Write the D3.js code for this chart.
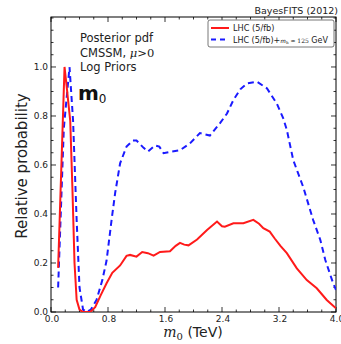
<!DOCTYPE html>
<html><head><meta charset="utf-8">
<script src="https://cdn.jsdelivr.net/npm/d3@7"></script>
<style>body{margin:0;background:#fff}svg{display:block}text{font-family:"DejaVu Sans",sans-serif}</style>
</head><body>
<script>
const xTicks = [0.0, 0.8, 1.6, 2.4, 3.2, 4.0];
const yTicks = [0.0, 0.2, 0.4, 0.6, 0.8, 1.0];
const redM0 = [0.10,0.19,0.22,0.27,0.30,0.33,0.36,0.40,0.45,0.55,0.62,0.70,0.78,0.86,0.97,1.06,1.11,1.20,1.28,1.36,1.44,1.53,1.67,1.75,1.81,1.87,1.93,2.05,2.19,2.33,2.40,2.44,2.56,2.70,2.84,2.92,2.98,3.07,3.14,3.22,3.31,3.45,3.59,3.73,3.87,4.0];
const redP  = [0.18,1.0,0.92,0.78,0.51,0.2,0.05,0.01,0.0,0.0,0.02,0.07,0.117,0.16,0.19,0.229,0.233,0.226,0.245,0.24,0.23,0.245,0.248,0.27,0.282,0.275,0.272,0.296,0.335,0.369,0.35,0.348,0.362,0.362,0.376,0.36,0.342,0.328,0.30,0.27,0.24,0.178,0.13,0.097,0.049,0.015];
const blueM0 = [0.10,0.18,0.26,0.31,0.36,0.40,0.45,0.50,0.56,0.64,0.72,0.78,0.85,0.90,0.97,1.06,1.15,1.20,1.30,1.36,1.46,1.52,1.58,1.70,1.81,1.95,2.09,2.23,2.37,2.47,2.56,2.66,2.75,2.89,3.03,3.17,3.26,3.31,3.40,3.54,3.68,3.78,3.85,3.96,4.0];
const blueP  = [0.10,0.75,1.0,0.78,0.375,0.10,0.01,0.0,0.01,0.05,0.13,0.21,0.375,0.485,0.607,0.675,0.70,0.70,0.67,0.655,0.68,0.675,0.648,0.655,0.66,0.688,0.73,0.72,0.77,0.81,0.865,0.91,0.933,0.94,0.913,0.85,0.79,0.743,0.62,0.51,0.375,0.294,0.212,0.117,0.09];

const W = 341, H = 344;
const L = 51, R = 336, T = 17, B = 312;
const svg = d3.select("body").append("svg").attr("width", W).attr("height", H);
const x = d3.scaleLinear().domain([0, 4]).range([L, R]);
const y = d3.scaleLinear().domain([0, 1.204]).range([B, T]);

// frame
svg.append("rect").attr("x", L).attr("y", T).attr("width", R - L).attr("height", B - T)
  .attr("fill", "none").attr("stroke", "#000").attr("stroke-width", 1);

const minorX = d3.range(0, 4.0001, 0.2);
const minorY = d3.range(0, 1.2001, 0.05);
const tg = svg.append("g").attr("stroke", "#000").attr("stroke-width", 0.8);
minorX.forEach(v => {
  const major = xTicks.some(t => Math.abs(t - v) < 1e-6);
  const len = major ? 5 : 2.5;
  tg.append("line").attr("x1", x(v)).attr("x2", x(v)).attr("y1", B).attr("y2", B - len);
  tg.append("line").attr("x1", x(v)).attr("x2", x(v)).attr("y1", T).attr("y2", T + len);
});
minorY.forEach(v => {
  const major = yTicks.some(t => Math.abs(t - v) < 1e-6);
  const len = major ? 5 : 2.5;
  tg.append("line").attr("y1", y(v)).attr("y2", y(v)).attr("x1", L).attr("x2", L + len);
  tg.append("line").attr("y1", y(v)).attr("y2", y(v)).attr("x1", R).attr("x2", R - len);
});

// tick labels
svg.append("g").selectAll("text").data(xTicks).join("text")
  .attr("x", d => x(d) + 1).attr("y", B + 10).attr("text-anchor", "middle")
  .attr("font-size", 9).attr("fill", "#222").text(d => d.toFixed(1));
svg.append("g").selectAll("text").data(yTicks).join("text")
  .attr("x", L - 3).attr("y", d => y(d) + 3).attr("text-anchor", "end")
  .attr("font-size", 9).attr("fill", "#222").text(d => d.toFixed(1));

// curves
const clip = svg.append("clipPath").attr("id", "c").append("rect")
  .attr("x", L).attr("y", T).attr("width", R - L).attr("height", B - T);
const line = d3.line().x(d => x(d[0])).y(d => y(d[1]));
const redData = redM0.map((v, i) => [v, redP[i]]);
const blueData = blueM0.map((v, i) => [v, blueP[i]]);
svg.append("path").attr("d", line(blueData)).attr("fill", "none").attr("stroke", "#1a1aff")
  .attr("stroke-width", 2).attr("stroke-dasharray", "6,4").attr("clip-path", "url(#c)");
svg.append("path").attr("d", line(redData)).attr("fill", "none").attr("stroke", "#ff1a1a")
  .attr("stroke-width", 2).attr("clip-path", "url(#c)");

// axis labels
svg.append("text").attr("transform", `translate(27,166) rotate(-90)`)
  .attr("text-anchor", "middle").attr("font-size", 15).attr("fill", "#222").text("Relative probability");
const xl = svg.append("text").attr("x", 193).attr("y", 337).attr("text-anchor", "middle")
  .attr("font-size", 14).attr("fill", "#222");
xl.append("tspan").attr("font-family", "DejaVu Serif").attr("font-style", "italic").text("m");
xl.append("tspan").attr("font-family", "DejaVu Serif").attr("font-size", 10).attr("dy", 3).text("0");
xl.append("tspan").attr("dy", -3).text(" (TeV)");

// title
svg.append("text").attr("x", 338).attr("y", 14).attr("text-anchor", "end")
  .attr("font-size", 9.5).attr("fill", "#222").text("BayesFITS (2012)");

// annotations
const ann = ["Posterior pdf", "CMSSM, ", "Log Priors"];
svg.append("text").attr("x", 80).attr("y", 42).attr("font-size", 11.5).attr("fill", "#222").text(ann[0]);
const c2 = svg.append("text").attr("x", 80).attr("y", 56.5).attr("font-size", 11.5).attr("fill", "#222");
c2.append("tspan").text(ann[1]);
c2.append("tspan").attr("font-family", "DejaVu Serif").attr("font-style", "italic").text("μ");
c2.append("tspan").attr("font-family", "DejaVu Serif").text(">0");
svg.append("text").attr("x", 80).attr("y", 70.5).attr("font-size", 11.5).attr("fill", "#222").text(ann[2]);
const m0 = svg.append("text").attr("x", 78).attr("y", 100).attr("font-size", 20)
  .attr("font-family", "DejaVu Serif").attr("font-weight", "bold").attr("fill", "#111");
m0.append("tspan").text("m");
m0.append("tspan").attr("font-size", 12).attr("font-weight", "normal").attr("dy", 3).text("0");

// legend
const lg = svg.append("g");
lg.append("rect").attr("x", 208).attr("y", 20).attr("width", 126).attr("height", 27).attr("rx", 2)
  .attr("fill", "#fff").attr("stroke", "#555").attr("stroke-width", 0.8);
lg.append("line").attr("x1", 211).attr("x2", 229).attr("y1", 28).attr("y2", 28)
  .attr("stroke", "#ff1a1a").attr("stroke-width", 2);
lg.append("line").attr("x1", 211).attr("x2", 229).attr("y1", 39.5).attr("y2", 39.5)
  .attr("stroke", "#1a1aff").attr("stroke-width", 2).attr("stroke-dasharray", "5,4");
lg.append("text").attr("x", 233).attr("y", 31).attr("font-size", 8.2).attr("fill", "#222").text("LHC (5/fb)");
const lt = lg.append("text").attr("x", 233).attr("y", 42.5).attr("font-size", 8).attr("fill", "#222");
lt.append("tspan").text("LHC (5/fb)+");
lt.append("tspan").attr("font-family", "DejaVu Serif").attr("font-style", "italic").attr("font-size", 6).text("m");
lt.append("tspan").attr("font-family", "DejaVu Serif").attr("font-size", 4).attr("dy", 1.5).text("h");
lt.append("tspan").attr("font-family", "DejaVu Serif").attr("font-size", 6).attr("dy", -1.5).text(" ≃ 125");
lt.append("tspan").text(" GeV");
</script>
</body></html>
